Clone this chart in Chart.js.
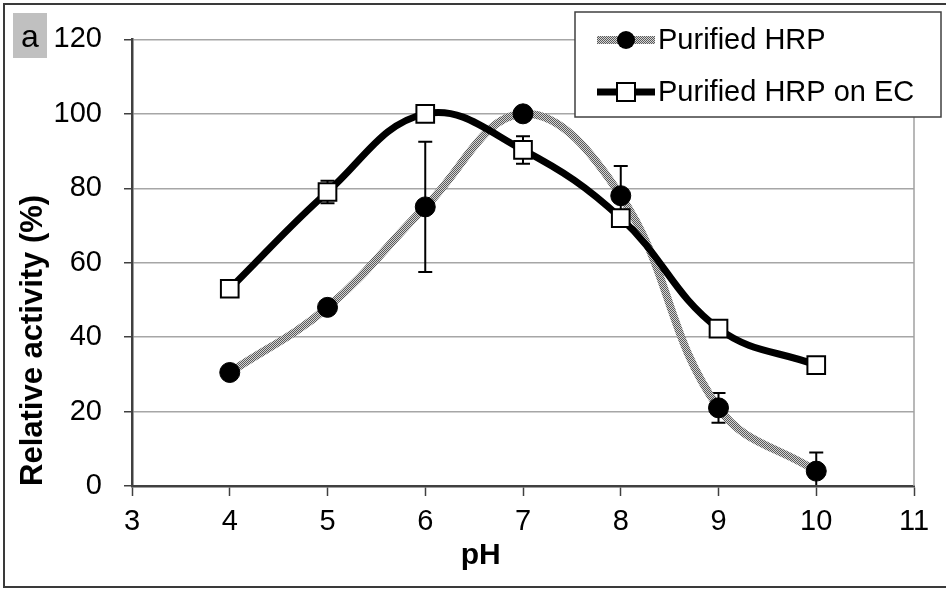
<!DOCTYPE html>
<html lang="en">
<head>
<meta charset="UTF-8">
<title>Relative activity vs pH</title>
<script src="https://cdn.jsdelivr.net/npm/chart.js"></script>
<style>
  html, body { margin: 0; padding: 0; background: #fff; }
  canvas { display: block; }
</style>
</head>
<body>
<canvas id="phChart" width="946" height="589"></canvas>
<script>
// values
const phValues = [4, 5, 6, 7, 8, 9, 10];
const hrpActivity = [30.5, 48, 75, 100, 78, 21, 4];
const hrpError = [0, 0, 17.5, 0, 8, 4, 5];
const ecActivity = [53, 79, 100, 90.3, 72, 42.3, 32.5];
const ecError = [0, 3, 0, 3.7, 0, 0, 0];
const xTicks = [3, 4, 5, 6, 7, 8, 9, 10, 11];
const yTicks = [0, 20, 40, 60, 80, 100, 120];
const seriesNames = ['Purified HRP', 'Purified HRP on EC'];

const FONT = '"Liberation Sans", Arial, sans-serif';
const canvas = document.getElementById('phChart');
const ctx = canvas.getContext('2d');

// dithered grey stroke like the original
function hatchPattern() {
    const c = document.createElement('canvas');
    c.width = 2; c.height = 2;
    const g = c.getContext('2d');
    g.fillStyle = '#d4d4d4';
    g.fillRect(0, 0, 2, 2);
    g.fillStyle = '#5a5a5a';
    g.fillRect(0, 0, 1, 1);
    g.fillRect(1, 1, 1, 1);
    return ctx.createPattern(c, 'repeat');
}
const hatch = hatchPattern();

function toPoints(ys) {
    return phValues.map((x, i) => ({ x: x, y: ys[i] }));
}

const errorBars = {
    id: 'errorBars',
    beforeDatasetsDraw(chart) {
        const c = chart.ctx;
        const xs = chart.scales.x, ys = chart.scales.y;
        const a = chart.chartArea;
        const sets = [[hrpActivity, hrpError], [ecActivity, ecError]];
        c.save();
        c.beginPath();
        c.rect(a.left, a.top - 10, a.right - a.left, a.bottom - a.top + 9);
        c.clip();
        c.strokeStyle = '#000';
        c.lineWidth = 2;
        sets.forEach(([vals, errs]) => {
            vals.forEach((v, i) => {
                if (!errs[i]) return;
                const px = xs.getPixelForValue(phValues[i]);
                const top = ys.getPixelForValue(v + errs[i]);
                const bot = ys.getPixelForValue(v - errs[i]);
                c.beginPath();
                c.moveTo(px, top); c.lineTo(px, bot);
                c.moveTo(px - 7, top); c.lineTo(px + 7, top);
                c.moveTo(px - 7, bot); c.lineTo(px + 7, bot);
                c.stroke();
            });
        });
        c.restore();
        // right edge of plot area
        c.save();
        c.strokeStyle = '#a0a0a0';
        c.lineWidth = 1.5;
        c.beginPath();
        c.moveTo(a.right, a.top);
        c.lineTo(a.right, a.bottom);
        c.stroke();
        c.restore();
    }
};

const decorations = {
    id: 'decorations',
    afterDraw(chart) {
        const c = chart.ctx;
        const a = chart.chartArea;
        c.save();
        // outer frame
        c.strokeStyle = '#3a3a3a';
        c.lineWidth = 2;
        c.strokeRect(4, 4, 960, 583);

        // panel label
        c.fillStyle = '#c0c0c0';
        c.fillRect(13, 13, 34, 45);
        c.fillStyle = '#000';
        c.font = '32px ' + FONT;
        c.textAlign = 'center';
        c.textBaseline = 'alphabetic';
        c.fillText('a', 30, 47);

        // x axis title
        c.font = 'bold 30px ' + FONT;
        c.fillText('pH', a.left + (a.right - a.left) * 0.446, 564);

        // legend
        const lx = 575, ly = 12, lw = 366, lh = 105;
        c.fillStyle = '#fff';
        c.fillRect(lx, ly, lw, lh);
        c.strokeStyle = '#404040';
        c.lineWidth = 1.5;
        c.strokeRect(lx, ly, lw, lh);

        const rows = [40, 92];
        // row 1: grey line + filled circle
        c.strokeStyle = hatch;
        c.lineWidth = 8;
        c.beginPath();
        c.moveTo(597, rows[0]); c.lineTo(655, rows[0]);
        c.stroke();
        c.fillStyle = '#000';
        c.beginPath();
        c.arc(626, rows[0], 9, 0, Math.PI * 2);
        c.fill();
        // row 2: black line + open square
        c.strokeStyle = '#000';
        c.lineWidth = 7;
        c.beginPath();
        c.moveTo(597, rows[1]); c.lineTo(655, rows[1]);
        c.stroke();
        c.fillStyle = '#fff';
        c.lineWidth = 2;
        c.fillRect(617, rows[1] - 9, 18, 18);
        c.strokeRect(617, rows[1] - 9, 18, 18);

        c.fillStyle = '#000';
        c.font = '29px ' + FONT;
        c.textAlign = 'left';
        c.textBaseline = 'middle';
        c.fillText(seriesNames[0], 658, rows[0] + 1);
        c.fillText(seriesNames[1], 658, rows[1] + 1);
        c.restore();
    }
};

new Chart(ctx, {
    type: 'line',
    data: {
        datasets: [{
            label: seriesNames[1],
            data: toPoints(ecActivity),
            borderColor: '#000',
            borderWidth: 7,
            tension: 0.4,
            pointStyle: 'rect',
            pointRadius: 12.5,
            pointBorderWidth: 2,
            pointBackgroundColor: '#fff',
            pointBorderColor: '#000',
            order: 0
        }, {
            label: seriesNames[0],
            data: toPoints(hrpActivity),
            borderColor: hatch,
            borderWidth: 8,
            tension: 0.4,
            pointStyle: 'circle',
            pointRadius: 10,
            pointBackgroundColor: '#000',
            pointBorderColor: '#000',
            pointBorderWidth: 1,
            order: 1
        }]
    },
    options: {
        responsive: false,
        animation: false,
        devicePixelRatio: 1,
        layout: { padding: { top: 39, right: 32, left: 0, bottom: 0 } },
        plugins: {
            legend: { display: false },
            tooltip: { enabled: false }
        },
        scales: {
            x: {
                type: 'linear',
                min: 3,
                max: 11,
                afterBuildTicks: s => { s.ticks = xTicks.map(v => ({ value: v })); },
                afterFit: s => { s.height = 103; },
                grid: {
                    drawOnChartArea: false,
                    drawTicks: true,
                    tickLength: 10,
                    tickColor: '#404040',
                    tickWidth: 1.5
                },
                border: { color: '#404040', width: 2.5 },
                ticks: { color: '#000', font: { family: FONT, size: 29 }, padding: 9, maxRotation: 0 }
            },
            y: {
                min: 0,
                max: 120,
                afterBuildTicks: s => { s.ticks = yTicks.map(v => ({ value: v })); },
                afterFit: s => { s.width = 132; },
                grid: {
                    color: '#a6a6a6',
                    lineWidth: 1.5,
                    tickLength: 8,
                    tickColor: '#404040',
                    tickWidth: 1.5
                },
                border: { color: '#404040', width: 2.5 },
                ticks: { color: '#000', font: { family: FONT, size: 29 }, padding: 22 },
                title: {
                    display: true,
                    text: 'Relative activity (%)',
                    align: 'start',
                    color: '#000',
                    font: { family: FONT, size: 31, weight: 'bold' },
                    padding: { top: 15, bottom: 0 }
                }
            }
        }
    },
    plugins: [errorBars, decorations]
});
</script>
</body>
</html>
